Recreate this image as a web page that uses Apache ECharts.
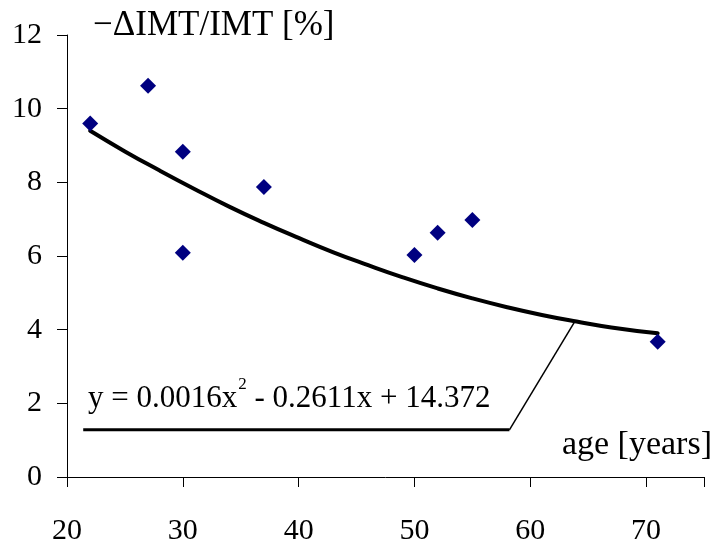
<!DOCTYPE html>
<html>
<head>
<meta charset="utf-8">
<script src="https://cdn.jsdelivr.net/npm/echarts@6/dist/echarts.min.js"></script>
<style>
  html, body { margin: 0; padding: 0; background: #fff; }
  #chart { width: 723px; height: 550px; }
</style>
</head>
<body>
<div id="chart"></div>
<script>
// 测量点 (age, -ΔIMT/IMT %)
const pointAge = [22, 27, 30, 30, 37, 50, 52, 55, 71];
const pointVal = [9.6, 10.62, 8.83, 6.09, 7.87, 6.03, 6.63, 6.98, 3.67];

// 趋势线
const trendAge = [22, 25, 28, 31, 34, 37, 40, 43, 46, 49, 52, 55, 58, 61, 64, 67, 71];
const trendVal = [9.4, 8.84, 8.32, 7.82, 7.34, 6.9, 6.49, 6.1, 5.75, 5.42, 5.12, 4.85, 4.61, 4.4, 4.22, 4.06, 3.9];

// 公式标注的引线
const leaderFlatAge = [21.4, 58.2];
const leaderFlatVal = [1.28, 1.28];
const leaderDiagAge = [58.2, 63.8];
const leaderDiagVal = [1.28, 4.2];

const xTicks = [20, 30, 40, 50, 60, 70];
const yTicks = [0, 2, 4, 6, 8, 10, 12];

// 公式文字（上标分开画）
const eqPart1 = 'y = 0.0016x';
const eqSup = '2';
const eqPart2 = ' - 0.2611x + 14.372';

const FONT = '"Liberation Serif", "Times New Roman", serif';
const EQ_FONT = '31px ' + FONT;
const SUP_FONT = '17px ' + FONT;
const zip = (a, b) => a.map((v, i) => [v, b[i]]);

// 用 canvas 量一下文字宽度
const ctx = document.createElement('canvas').getContext('2d');
const textWidth = (t, f) => { ctx.font = f; return ctx.measureText(t).width; };
const eqLeft = 88;
const w1 = textWidth(eqPart1, EQ_FONT);
const wSup = textWidth(eqSup, SUP_FONT);

const myChart = echarts.init(document.getElementById('chart'));

const option = {
  animation: false,
  grid: { left: 67, right: 19, top: 35, bottom: 73 },
  xAxis: {
    type: 'value',
    min: 20,
    max: 75,
    interval: 10,
    axisLine: { show: true, onZero: false, lineStyle: { color: '#000', width: 1 } },
    axisTick: { show: true, length: 10, lineStyle: { color: '#000' } },
    axisLabel: {
      margin: 39,
      fontFamily: FONT,
      fontSize: 30,
      color: '#000',
      formatter: v => (xTicks.includes(v) ? String(v) : ''),
    },
    splitLine: { show: false },
  },
  yAxis: {
    type: 'value',
    min: 0,
    max: 12,
    interval: 2,
    axisLine: { show: true, lineStyle: { color: '#000', width: 1 } },
    axisTick: { show: true, length: 10, lineStyle: { color: '#000' } },
    axisLabel: {
      margin: 25,
      fontFamily: FONT,
      fontSize: 30,
      color: '#000',
      formatter: v => (yTicks.includes(v) ? String(v) : ''),
    },
    splitLine: { show: false },
  },
  graphic: [
    {
      type: 'text',
      x: 93,
      y: 8,
      style: { text: '\u2212\u0394IMT/IMT [%]', font: '35px ' + FONT, fill: '#000' },
    },
    {
      type: 'text',
      x: 712,
      y: 428,
      style: { text: 'age [years]', font: '34px ' + FONT, fill: '#000', align: 'right' },
    },
    {
      type: 'text',
      x: eqLeft,
      y: 383,
      style: { text: eqPart1, font: EQ_FONT, fill: '#000' },
    },
    {
      type: 'text',
      x: eqLeft + w1 + 1,
      y: 376,
      style: { text: eqSup, font: SUP_FONT, fill: '#000' },
    },
    {
      type: 'text',
      x: eqLeft + w1 + wSup + 1,
      y: 383,
      style: { text: eqPart2, font: EQ_FONT, fill: '#000' },
    },
  ],
  series: [
    {
      name: '趋势线',
      type: 'line',
      data: zip(trendAge, trendVal),
      smooth: true,
      symbol: 'none',
      lineStyle: { color: '#000', width: 4, cap: 'round' },
      z: 2,
    },
    {
      name: '引线1',
      type: 'line',
      data: zip(leaderFlatAge, leaderFlatVal),
      symbol: 'none',
      lineStyle: { color: '#000', width: 3 },
      z: 1,
    },
    {
      name: '引线2',
      type: 'line',
      data: zip(leaderDiagAge, leaderDiagVal),
      symbol: 'none',
      lineStyle: { color: '#000', width: 1.5 },
      z: 1,
    },
    {
      name: '测量点',
      type: 'scatter',
      data: zip(pointAge, pointVal),
      symbol: 'diamond',
      symbolSize: 16,
      itemStyle: { color: '#000080', opacity: 1 },
      z: 3,
    },
  ],
};

myChart.setOption(option);
</script>
</body>
</html>
